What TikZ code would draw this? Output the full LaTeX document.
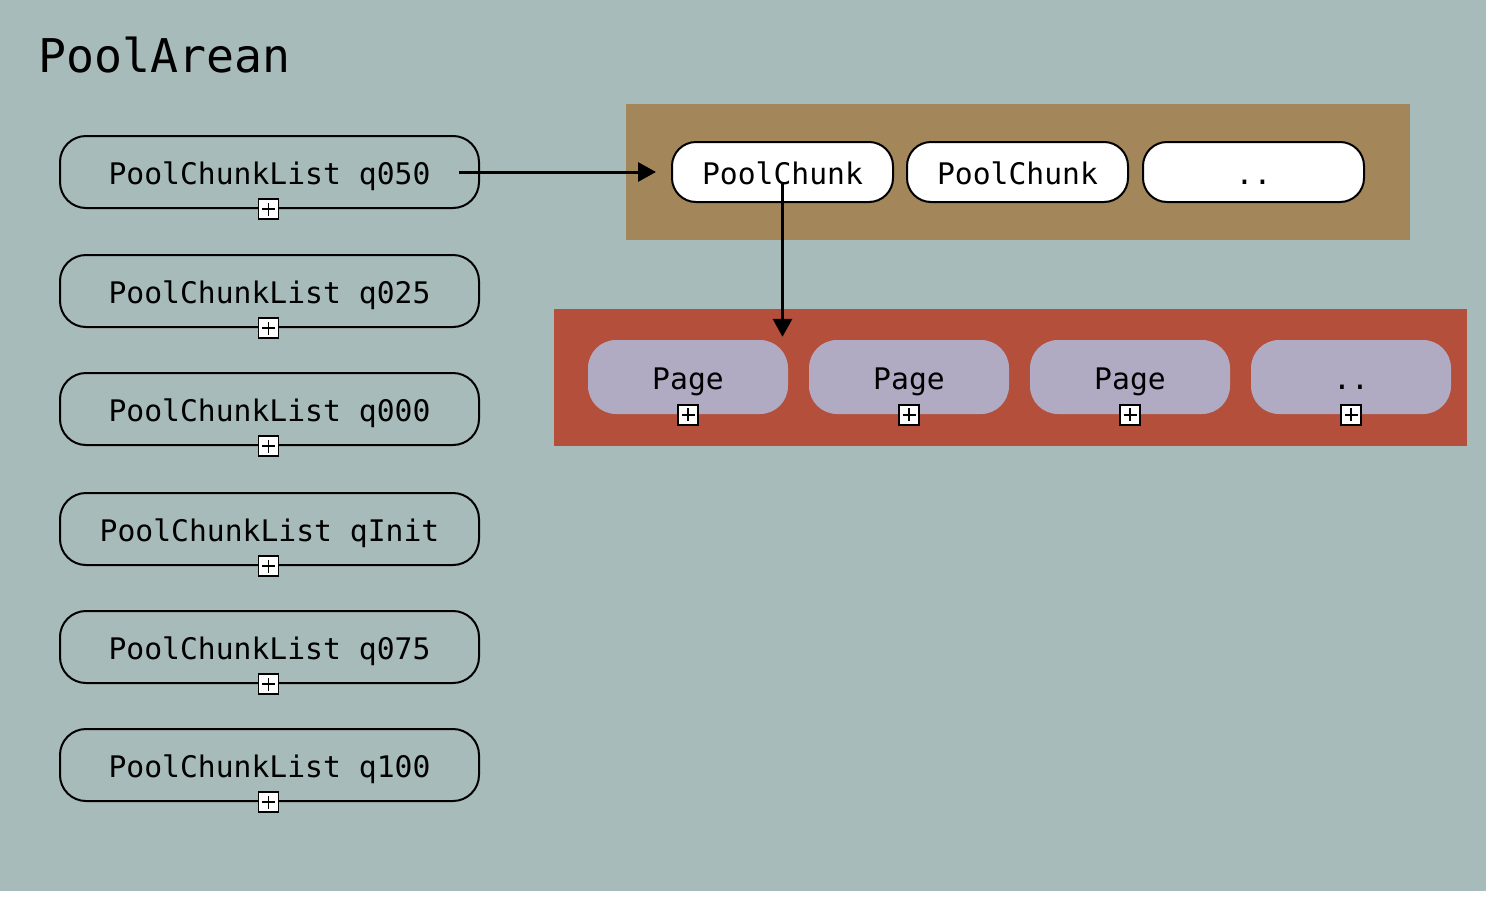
\documentclass[tikz,border=0pt]{standalone}
\usepackage{fontspec}
\setmainfont{DejaVu Sans Mono}
\usetikzlibrary{arrows.meta}
\definecolor{bgteal}{HTML}{A7BBBA}
\definecolor{chunkbrown}{HTML}{A3865A}
\definecolor{pagered}{HTML}{B34F3B}
\definecolor{pagelav}{HTML}{B0AAC2}
\tikzset{
  boxtext/.style={inner sep=0pt, text height=24pt, text depth=0pt, font=\fontsize{29.7}{34}\selectfont},
  listbox/.style={boxtext, draw=black, line width=2pt, rounded corners=26pt, minimum width=419pt, minimum height=72pt},
  chunkbox/.style={boxtext, draw=black, fill=white, line width=2pt, rounded corners=24pt, minimum width=221pt, minimum height=60pt},
  pagebox/.style={boxtext, fill=pagelav, rounded corners=28pt, minimum width=200pt, minimum height=74pt},
  expander/.style={draw=black, fill=white, line width=1.8pt, minimum size=20pt, inner sep=0pt,
    path picture={\draw[line width=1.8pt] ([xshift=-6.5pt]path picture bounding box.center) -- ([xshift=6.5pt]path picture bounding box.center) ([yshift=-6.5pt]path picture bounding box.center) -- ([yshift=6.5pt]path picture bounding box.center);}},
  link/.style={line width=3pt, -{Triangle[length=18pt,width=19pt]}}
}
\begin{document}
\begin{tikzpicture}[x=1pt,y=-1pt]
\useasboundingbox (0,0) rectangle (1492,900);
\fill[bgteal] (0,0) rectangle (1486,891);
\node[anchor=base west, inner sep=0pt, font=\fontsize{46.5}{52}\selectfont] (title) at (38,72) {PoolArean};
% chunk lists
\node[listbox] (q050) at (269.5,172) {PoolChunkList q050};
\node[listbox] (q025) at (269.5,291) {PoolChunkList q025};
\node[listbox] (q000) at (269.5,409) {PoolChunkList q000};
\node[listbox] (qInit) at (269.5,529) {PoolChunkList qInit};
\node[listbox] (q075) at (269.5,647) {PoolChunkList q075};
\node[listbox] (q100) at (269.5,765) {PoolChunkList q100};
\foreach \n in {q050,q025,q000,qInit,q075,q100}{
  \node[expander] (x\n) at ([xshift=-1pt]\n.south) {};
}
% chunk area
\fill[chunkbrown] (626,104) rectangle (1410,240);
\node[chunkbox] (chunk1) at (782.5,172) {PoolChunk};
\node[chunkbox] (chunk2) at (1017.5,172) {PoolChunk};
\node[chunkbox] (chunk3) at (1253.5,172) {..};
% page area
\fill[pagered] (554,309) rectangle (1467,446);
\node[pagebox] (page1) at (688,377) {Page};
\node[pagebox] (page2) at (909,377) {Page};
\node[pagebox] (page3) at (1130,377) {Page};
\node[pagebox] (page4) at (1351,377) {..};
\foreach \n in {page1,page2,page3,page4}{
  \node[expander] (x\n) at ([yshift=-0.5pt]\n.south) {};
}
% connectors
\coordinate (qstart) at ([xshift=-21pt]q050.east);
\draw[link, shorten >=15pt] (qstart) -- (chunk1.west);
\coordinate (cstart) at ([yshift=-12pt]chunk1.center);
\coordinate (cend) at (chunk1.center |- page1.north);
\draw[link, shorten >=3pt] (cstart) -- (cend);
\end{tikzpicture}
\end{document}
